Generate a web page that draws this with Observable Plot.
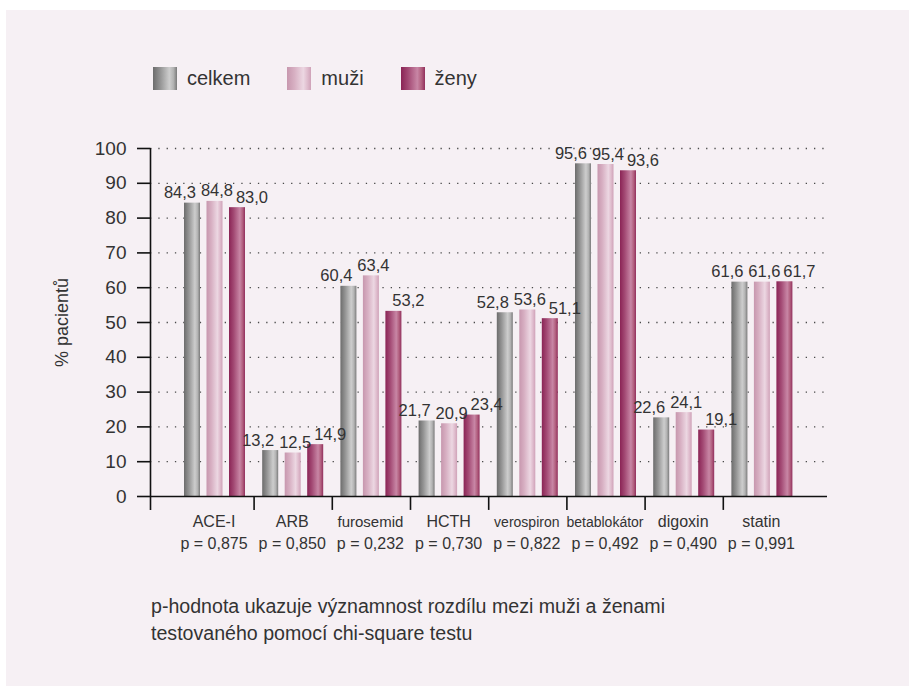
<!DOCTYPE html>
<html><head><meta charset="utf-8">
<script src="https://cdn.jsdelivr.net/npm/d3@7"></script>
<script src="https://cdn.jsdelivr.net/npm/@observablehq/plot@0.6"></script>
<style>
html,body{margin:0;padding:0;background:#fff;}
body{width:909px;height:686px;position:relative;overflow:hidden;font-family:"Liberation Sans",Arial,Helvetica,sans-serif;color:#333;}
#panel{position:absolute;left:6px;top:10px;width:903px;height:676px;background:#f6f0f4;}
#legend{position:absolute;left:147px;top:57px;display:flex;align-items:center;gap:37px;font-size:20px;line-height:23px;}
.item{display:flex;align-items:center;gap:10px;}
.sw{width:24px;height:23px;}
#chart{position:absolute;left:0;top:100px;}
#note{position:absolute;left:145px;top:583px;font-size:19.6px;line-height:27px;color:#333;}
</style></head>
<body>
<div id="panel">
  <div id="legend"></div>
  <div id="chart"></div>
  <div id="note"></div>
</div>
<script>
// ---- data ----
const categories = ["ACE-I","ARB","furosemid","HCTH","verospiron","betablokátor","digoxin","statin"];
const pLabels = ["p = 0,875","p = 0,850","p = 0,232","p = 0,730","p = 0,822","p = 0,492","p = 0,490","p = 0,991"];
const seriesNames = ["celkem","muži","ženy"];
const celkem = [84.3, 13.2, 60.4, 21.7, 52.8, 95.6, 22.6, 61.6];
const muzi   = [84.8, 12.5, 63.4, 20.9, 53.6, 95.4, 24.1, 61.6];
const zeny   = [83.0, 14.9, 53.2, 23.4, 51.1, 93.6, 19.1, 61.7];
const yTicks = [0,10,20,30,40,50,60,70,80,90,100];
const gridTicks = [10,20,30,40,50,60,70,80,90,100];
const yLabel = "% pacientů";
const noteLines = ["p-hodnota ukazuje významnost rozdílu mezi muži a ženami","testovaného pomocí chi-square testu"];

// ---- styles ----
const gradients = [
  [[0,"#6c6c6c"],[0.3,"#949494"],[0.68,"#cdcdcd"],[0.85,"#b3b3b3"],[1,"#7a7a7a"]],
  [[0,"#c797ae"],[0.3,"#d7afc2"],[0.68,"#ecd7e2"],[0.85,"#dfbccd"],[1,"#cfa2b8"]],
  [[0,"#8a2455"],[0.3,"#a34a74"],[0.68,"#c886a5"],[0.85,"#b2607f"],[1,"#922f5d"]]
];
const seriesValues = [celkem, muzi, zeny];
const barInsets = [[8.6,53.6],[31.1,31.1],[53.6,8.6]];
const labelDx = [-35, 2, 37];
const fmt = v => v.toFixed(1).replace(".", ",");
const FONT = '"Liberation Sans", Arial, Helvetica, sans-serif';

// legend
const legend = document.getElementById("legend");
seriesNames.forEach((name, k) => {
  const it = document.createElement("div"); it.className = "item";
  const sw = document.createElement("div"); sw.className = "sw";
  sw.style.background = `linear-gradient(to right, ${gradients[k].map(([o,c]) => `${c} ${o*100}%`).join(", ")})`;
  const t = document.createElement("span"); t.textContent = name;
  it.append(sw, t); legend.append(it);
});
document.getElementById("note").innerHTML = noteLines.join("<br>");

// fit long category names
const ctx = document.createElement("canvas").getContext("2d");
function fitSize(t){ let s = 16; while (s > 14) { ctx.font = `${s}px ${FONT}`; if (ctx.measureText(t).width <= 66) break; s--; } return s; }

const rowsBySeries = seriesValues.map(vals => vals.map((v, i) => ({cat: categories[i], v})));
const marks = [
  Plot.ruleY(gridTicks, {stroke: "#4a4a4a", strokeWidth: 1.3, strokeDasharray: "1.3,7"}),
];
rowsBySeries.forEach((rows, k) => {
  marks.push(Plot.barY(rows, {x: "cat", y: "v", fill: `url(#grad${k})`, insetLeft: barInsets[k][0], insetRight: barInsets[k][1]}));
});
rowsBySeries.forEach((rows, k) => {
  marks.push(Plot.text(rows, {x: "cat", y: "v", text: d => fmt(d.v), dx: labelDx[k], dy: -5, lineAnchor: "bottom", fontSize: 16.5, fill: "#333"}));
});
marks.push(
  Plot.ruleY([0], {stroke: "#111", strokeWidth: 1.6}),
  Plot.ruleX([categories[0]], {x: d => d, y1: -4, y2: 100, dx: -64.5, stroke: "#111", strokeWidth: 1.6}),
  Plot.ruleX(categories.slice(1), {x: d => d, y1: -4, y2: 0, dx: -39.1, stroke: "#111", strokeWidth: 1.6}),
  Plot.axisY(yTicks, {tickSize: 13, tickPadding: 11, fontSize: 19, label: null, strokeWidth: 1.6, stroke: "#111", fill: "#333"}),
  Plot.text([yLabel], {frameAnchor: "left", textAnchor: "middle", dx: -88, rotate: -90, fontSize: 18, fill: "#333"}),
  Plot.text(categories, {x: d => d, frameAnchor: "bottom", dy: 30, dx: -1, lineAnchor: "bottom", fontSize: d => fitSize(d), fill: "#333"}),
  Plot.text(categories, {x: d => d, frameAnchor: "bottom", dy: 52, dx: -1, lineAnchor: "bottom", text: (d, i) => pLabels[i], fontSize: 16, fill: "#333"})
);

const svg = Plot.plot({
  width: 903, height: 450,
  marginTop: 38, marginBottom: 64, marginLeft: 144, marginRight: 82,
  style: {background: "transparent", fontFamily: FONT, color: "#111", overflow: "visible"},
  x: {type: "band", domain: categories, range: [169.4, 795], padding: 0, round: false, axis: null},
  y: {domain: [0, 100], axis: null},
  marks
});
const defs = d3.select(svg).insert("defs", ":first-child");
gradients.forEach((stops, k) => {
  const g = defs.append("linearGradient").attr("id", `grad${k}`).attr("x1", 0).attr("x2", 1).attr("y1", 0).attr("y2", 0);
  stops.forEach(([o, c]) => g.append("stop").attr("offset", o).attr("stop-color", c));
});
document.getElementById("chart").append(svg);
</script>
</body></html>
